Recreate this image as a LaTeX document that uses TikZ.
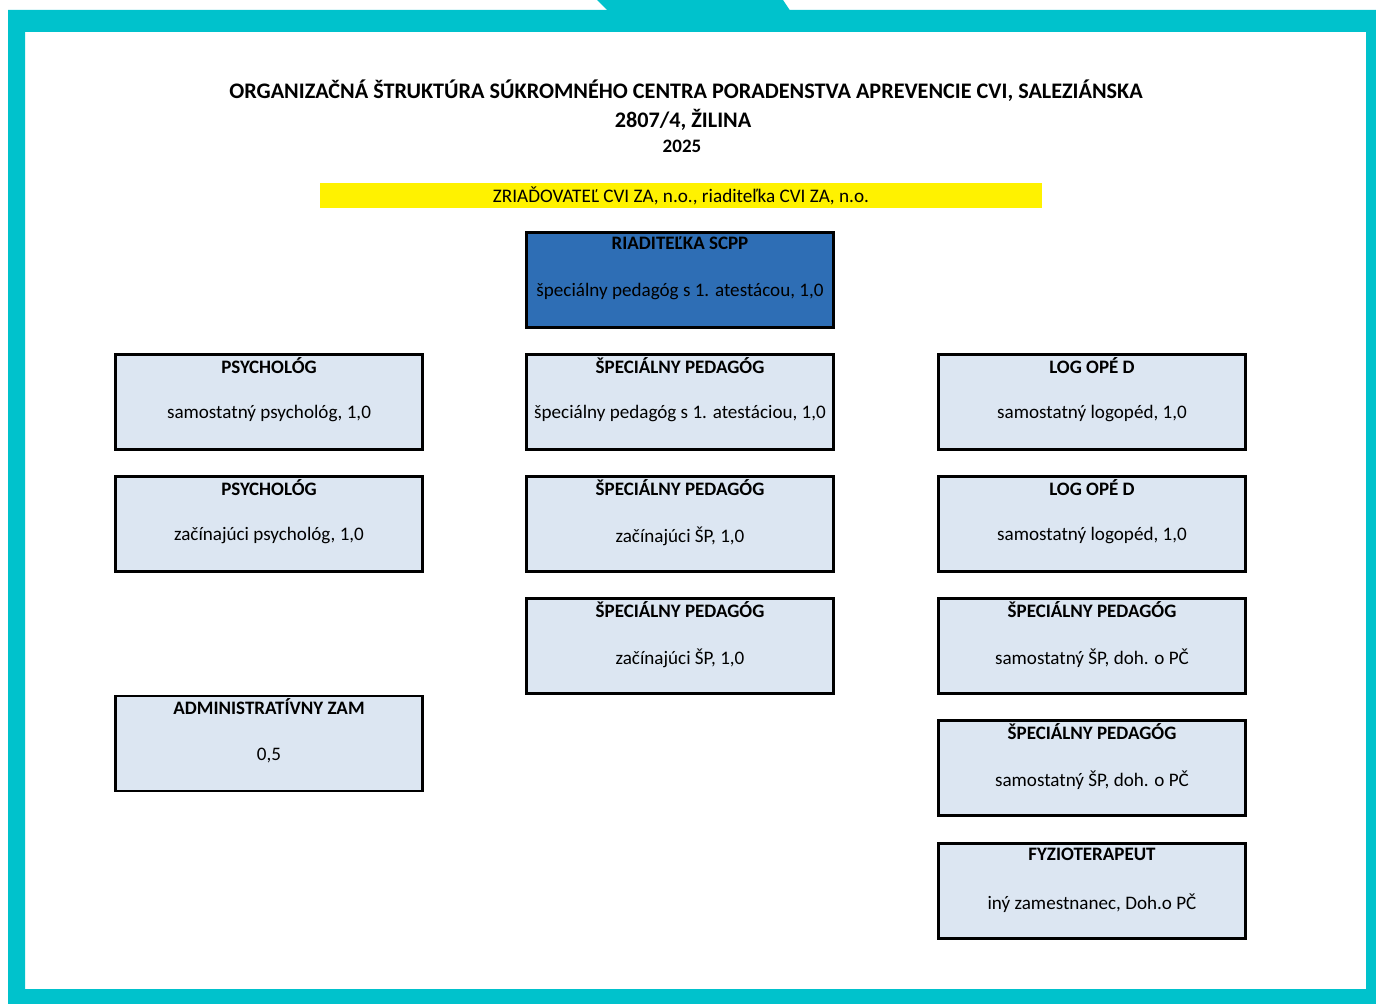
\documentclass[tikz,border=0pt]{standalone}
\usepackage{fontspec}
\setmainfont{Carlito}

\definecolor{framecyan}{RGB}{0,194,204}
\definecolor{chiefblue}{RGB}{46,110,181}
\definecolor{staffblue}{RGB}{220,230,242}

\tikzset{
  orgbox/.style={draw=black, line width=1.4pt, fill=staffblue, minimum width=153.5pt, minimum height=47.5pt, inner sep=0pt},
  boxhead/.style={font=\bfseries\fontsize{9.5}{11}\selectfont, inner sep=0pt},
  boxtext/.style={font=\fontsize{9.55}{11}\selectfont, inner sep=0pt}
}

\begin{document}
\begin{tikzpicture}[x=0.5pt,y=-0.5pt]
\useasboundingbox (0,0) rectangle (1376,1004);
% frame
\fill[framecyan, even odd rule] (8,10) rectangle (1376,1004) (25,32) rectangle (1366,989);
\fill[framecyan] (597,0) -- (783,0) -- (791,12) -- (609,12) -- cycle;

% title
\node[font=\bfseries\fontsize{11.1}{13}\selectfont, inner sep=0pt] (title1) at (686,91) {ORGANIZAČNÁ ŠTRUKTÚRA SÚKROMNÉHO CENTRA PORADENSTVA APREVENCIE CVI, SALEZIÁNSKA};
\node[font=\bfseries\fontsize{11.1}{13}\selectfont, inner sep=0pt] (title2) at (683,120) {2807/4, ŽILINA};
\node[font=\bfseries\fontsize{9.5}{11}\selectfont, inner sep=0pt] (title3) at (682,146) {2025};

% founder
\node[fill=yellow, minimum width=361pt, minimum height=12.5pt, inner sep=0pt, font=\fontsize{9.6}{11}\selectfont] (founder) at (681,195.5) {ZRIAĎOVATEĽ CVI ZA, n.o., riaditeľka CVI ZA, n.o.};

% director
\node[orgbox, fill=chiefblue] (chief) at (680,280) {};
\node[boxhead] (chief-head) at ([yshift=-6pt]chief.north) {RIADITEĽKA SCPP};
\node[boxtext] (chief-text) at ([yshift=-6pt]chief.center) {špeciálny pedagóg s 1. atestácou, 1,0};

% left column
\node[orgbox] (psyA) at (269,402) {};
\node[boxhead] (psyA-head) at ([yshift=-6pt]psyA.north) {PSYCHOLÓG};
\node[boxtext] (psyA-text) at ([yshift=-6pt]psyA.center) {samostatný psychológ, 1,0};
\node[orgbox] (psyB) at (269,524) {};
\node[boxhead] (psyB-head) at ([yshift=-6pt]psyB.north) {PSYCHOLÓG};
\node[boxtext] (psyB-text) at ([yshift=-6pt]psyB.center) {začínajúci psychológ, 1,0};
\node[orgbox] (admin) at (269,743.5) {};
\node[boxhead] (admin-head) at ([yshift=-6pt]admin.north) {ADMINISTRATÍVNY ZAM};
\node[boxtext] (admin-text) at ([yshift=-6pt]admin.center) {0,5};

% middle column
\node[orgbox] (pedA) at (680,402) {};
\node[boxhead] (pedA-head) at ([yshift=-6pt]pedA.north) {ŠPECIÁLNY PEDAGÓG};
\node[boxtext] (pedA-text) at ([yshift=-6pt]pedA.center) {špeciálny pedagóg s 1. atestáciou, 1,0};
\node[orgbox] (pedB) at (680,524) {};
\node[boxhead] (pedB-head) at ([yshift=-6pt]pedB.north) {ŠPECIÁLNY PEDAGÓG};
\node[boxtext] (pedB-text) at ([yshift=-6pt]pedB.center) {začínajúci ŠP, 1,0};
\node[orgbox] (pedC) at (680,646) {};
\node[boxhead] (pedC-head) at ([yshift=-6pt]pedC.north) {ŠPECIÁLNY PEDAGÓG};
\node[boxtext] (pedC-text) at ([yshift=-6pt]pedC.center) {začínajúci ŠP, 1,0};

% right column
\node[orgbox] (logA) at (1092,402) {};
\node[boxhead] (logA-head) at ([yshift=-6pt]logA.north) {LOG OPÉ D};
\node[boxtext] (logA-text) at ([yshift=-6pt]logA.center) {samostatný logopéd, 1,0};
\node[orgbox] (logB) at (1092,524) {};
\node[boxhead] (logB-head) at ([yshift=-6pt]logB.north) {LOG OPÉ D};
\node[boxtext] (logB-text) at ([yshift=-6pt]logB.center) {samostatný logopéd, 1,0};
\node[orgbox] (pedD) at (1092,646) {};
\node[boxhead] (pedD-head) at ([yshift=-6pt]pedD.north) {ŠPECIÁLNY PEDAGÓG};
\node[boxtext] (pedD-text) at ([yshift=-6pt]pedD.center) {samostatný ŠP, doh. o PČ};
\node[orgbox] (pedE) at (1092,768) {};
\node[boxhead] (pedE-head) at ([yshift=-6pt]pedE.north) {ŠPECIÁLNY PEDAGÓG};
\node[boxtext] (pedE-text) at ([yshift=-6pt]pedE.center) {samostatný ŠP, doh. o PČ};
\node[orgbox] (physio) at (1092,891) {};
\node[boxhead] (physio-head) at ([yshift=-6pt]physio.north) {FYZIOTERAPEUT};
\node[boxtext] (physio-text) at ([yshift=-6pt]physio.center) {iný zamestnanec, Doh.o PČ};
\end{tikzpicture}
\end{document}
